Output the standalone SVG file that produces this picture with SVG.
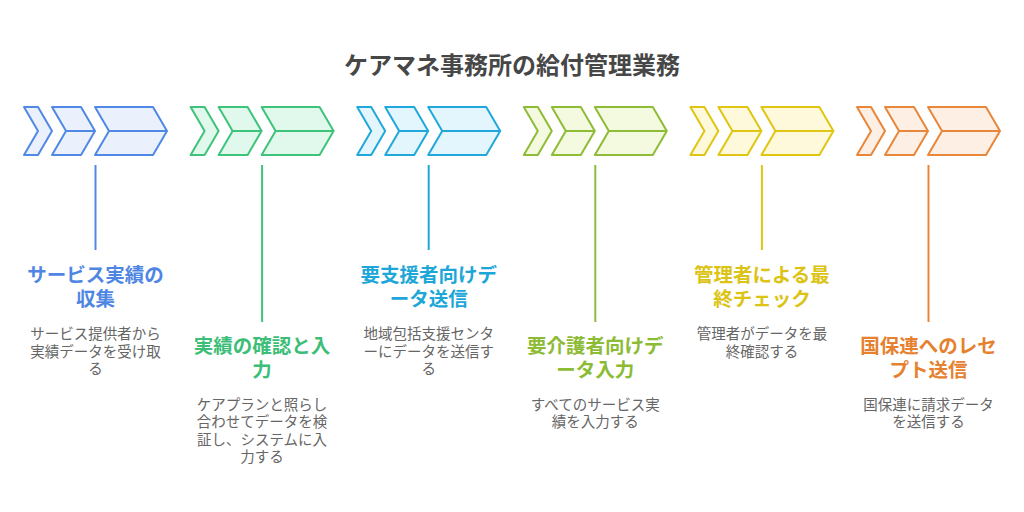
<svg xmlns="http://www.w3.org/2000/svg" width="1024" height="512" viewBox="0 0 1024 512">
<style>
.bg{fill:#ffffff}
.title{font-family:"Noto Sans CJK JP","Noto Sans",sans-serif;font-size:24px;font-weight:700;fill:#474747;text-anchor:middle}
.h{font-family:"Noto Sans CJK JP","Noto Sans",sans-serif;font-size:19.5px;font-weight:700;text-anchor:middle}
.d{font-family:"Noto Sans CJK JP","Noto Sans",sans-serif;font-size:14.5px;fill:#666666;text-anchor:middle}
.conn{stroke-width:2;fill:none}
.c1 use{fill:#EAF1FD;stroke:#5088E6}.c1 text.h{fill:#4F86E3}
.c2 use{fill:#E1F9EC;stroke:#3EC37B}.c2 text.h{fill:#3DBE78}
.c3 use{fill:#E4F6FD;stroke:#20A8DC}.c3 text.h{fill:#1DA6D8}
.c4 use{fill:#F3FADF;stroke:#8EBC36}.c4 text.h{fill:#8CBB34}
.c5 use{fill:#FDF9DA;stroke:#E0C512}.c5 text.h{fill:#DCC314}
.c6 use{fill:#FDEFE3;stroke:#E8863A}.c6 text.h{fill:#E5812F}
</style>
<defs>
<g id="chevrons" stroke-width="2" stroke-linejoin="round">
<polygon points="0,107 14,107 28,131 14,155 0,155 14,131"/>
<polygon points="28,107 57,107 71,131 57,155 28,155 42,131"/>
<line x1="42" y1="131" x2="71" y2="131"/>
<polygon points="71,107 129,107 143,131 129,155 71,155 85,131"/>
<line x1="85" y1="131" x2="143" y2="131"/>
</g>
</defs>
<rect class="bg" x="0" y="0" width="1024" height="512"/>
<text class="title" x="512" y="74">ケアマネ事務所の給付管理業務</text>

<g id="connectors">
<line class="conn" x1="95.5" y1="165" x2="95.5" y2="250" stroke="#5088E6"/>
<line class="conn" x1="262.1" y1="165" x2="262.1" y2="322" stroke="#3EC37B"/>
<line class="conn" x1="428.7" y1="165" x2="428.7" y2="250" stroke="#20A8DC"/>
<line class="conn" x1="595.3" y1="165" x2="595.3" y2="322" stroke="#8EBC36"/>
<line class="conn" x1="761.9" y1="165" x2="761.9" y2="250" stroke="#E0C512"/>
<line class="conn" x1="928.5" y1="165" x2="928.5" y2="322" stroke="#E8863A"/>
</g>

<g id="step1" class="c1" transform="translate(24,0)">
<use href="#chevrons"/>
<text class="h" x="71.5" y="281.5">サービス実績の</text>
<text class="h" x="71.5" y="305.5">収集</text>
<text class="d" x="71.5" y="339">サービス提供者から</text>
<text class="d" x="71.5" y="356.5">実績データを受け取</text>
<text class="d" x="71.5" y="374">る</text>
</g>

<g id="step2" class="c2" transform="translate(190.6,0)">
<use href="#chevrons"/>
<text class="h" x="71.5" y="352.5">実績の確認と入</text>
<text class="h" x="71.5" y="376.5">力</text>
<text class="d" x="71.5" y="409.5">ケアプランと照らし</text>
<text class="d" x="71.5" y="427">合わせてデータを検</text>
<text class="d" x="71.5" y="444.5">証し、システムに入</text>
<text class="d" x="71.5" y="462">力する</text>
</g>

<g id="step3" class="c3" transform="translate(357.2,0)">
<use href="#chevrons"/>
<text class="h" x="71.5" y="281.5">要支援者向けデ</text>
<text class="h" x="71.5" y="305.5">ータ送信</text>
<text class="d" x="71.5" y="339">地域包括支援センタ</text>
<text class="d" x="71.5" y="356.5">ーにデータを送信す</text>
<text class="d" x="71.5" y="374">る</text>
</g>

<g id="step4" class="c4" transform="translate(523.8,0)">
<use href="#chevrons"/>
<text class="h" x="71.5" y="352.5">要介護者向けデ</text>
<text class="h" x="71.5" y="376.5">ータ入力</text>
<text class="d" x="71.5" y="409.5">すべてのサービス実</text>
<text class="d" x="71.5" y="427">績を入力する</text>
</g>

<g id="step5" class="c5" transform="translate(690.4,0)">
<use href="#chevrons"/>
<text class="h" x="71.5" y="281.5">管理者による最</text>
<text class="h" x="71.5" y="305.5">終チェック</text>
<text class="d" x="71.5" y="339">管理者がデータを最</text>
<text class="d" x="71.5" y="356.5">終確認する</text>
</g>

<g id="step6" class="c6" transform="translate(857,0)">
<use href="#chevrons"/>
<text class="h" x="71.5" y="352.5">国保連へのレセ</text>
<text class="h" x="71.5" y="376.5">プト送信</text>
<text class="d" x="71.5" y="409.5">国保連に請求データ</text>
<text class="d" x="71.5" y="427">を送信する</text>
</g>
</svg>
